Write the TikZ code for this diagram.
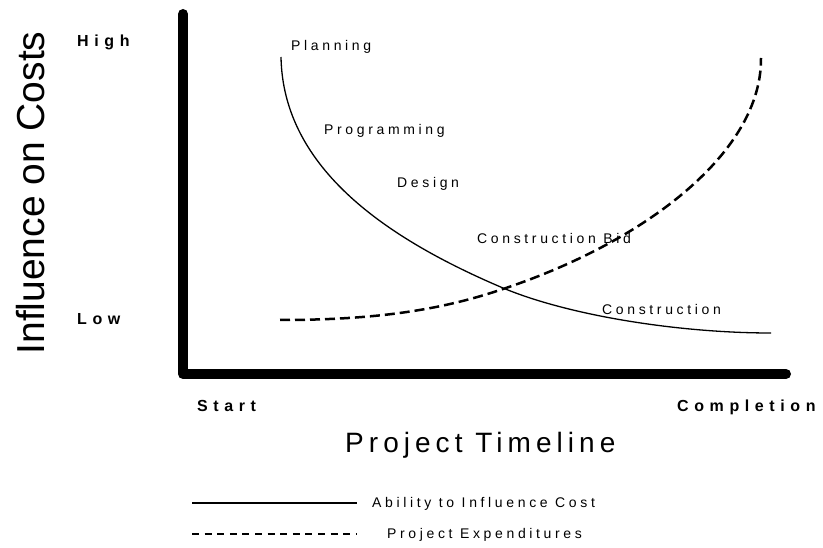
\documentclass[tikz,border=0pt]{standalone}
\usepackage{fontspec}
\setmainfont{Liberation Sans}
\newfontfamily\lblfont[LetterSpace=26]{Liberation Sans}
\newfontfamily\endfont[LetterSpace=35]{Liberation Sans}
\newfontfamily\ttlfont[LetterSpace=18]{Liberation Sans}
\usetikzlibrary{positioning}
\tikzset{
	lbl/.style={inner sep=0pt, anchor=base west, font=\fontsize{14}{16}\lblfont},
	endlbl/.style={inner sep=0pt, anchor=base west, font=\fontsize{16}{18}\endfont\bfseries},
	axis/.style={line width=10pt, line cap=round, line join=round},
	ability/.style={line width=1.3pt},
	spend/.style={line width=2.5pt, dash pattern=on 10pt off 5pt}
}

\begin{document}
\begin{tikzpicture}[x=1pt, y=-1pt]
			%%%%% START %%%%%
			\useasboundingbox (0, 0) rectangle (823, 548);
			
			\draw[axis] (183, 14) -- (183, 374) -- (786, 374);
			
			\node[rotate=90, anchor=base, inner sep=0pt, font=\fontsize{39}{44}\selectfont] (ytitle) at (45, 193) {Influence on Costs};
			\node[endlbl] (high) at (77, 47) {High};
			\node[endlbl] (low) at (77, 325) {Low};
			\node[endlbl] (start) at (197, 412) {Start};
			\node[endlbl] (compl) at (677, 412) {Completion};
			\node[inner sep=0pt, anchor=base west, font=\fontsize{28}{32}\ttlfont] (xtitle) at (345, 452) {Project Timeline};
			
			\draw[ability] (281, 57) .. controls (283, 170) and (390, 240) .. (503, 288)
				.. controls (570, 316) and (680, 333) .. (771, 333);
			\draw[spend] (280, 320) .. controls (380, 320) and (444, 309) .. (503, 289)
				.. controls (650, 240) and (762, 150) .. (761, 58);
			
			\node[lbl] (planning) at (291, 51) {Planning};
			\node[lbl] (programming) at (324, 135) {Programming};
			\node[lbl] (design) at (397, 188) {Design};
			\node[lbl] (bid) at (477, 244) {Construction Bid};
			\node[lbl] (construction) at (602, 315) {Construction};
			
			\draw[line width=1.5pt] (192, 503) -- (357, 503);
			\node[lbl] (leg1) at (372, 507) {Ability to Influence Cost};
			\draw[line width=1.5pt, dash pattern=on 7pt off 5.6pt] (192, 534) -- (357, 534);
			\node[lbl] (leg2) at (387, 538) {Project Expenditures};
			%%%%% END %%%%%
\end{tikzpicture}
\end{document}
